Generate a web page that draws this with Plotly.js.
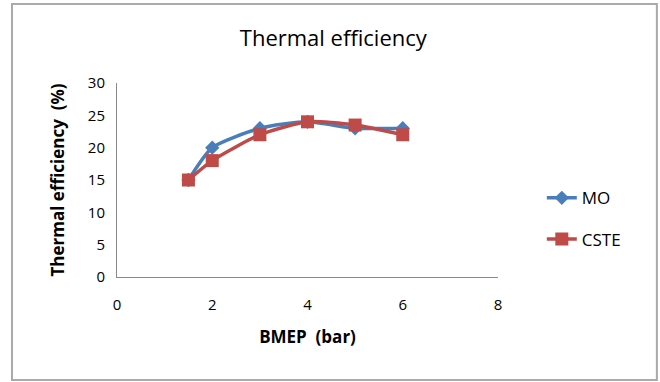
<!DOCTYPE html>
<html><head><meta charset="utf-8">
<script src="https://cdn.plot.ly/plotly-3.0.1.min.js"></script>
<style>html,body{margin:0;padding:0;background:#fff}#c{width:660px;height:382px}</style>
</head><body><div id="c"></div>
<script>
const bmep = [1.5, 2, 3, 4, 5, 6];
const mo = [15, 20, 23, 24, 23, 23];
const cste = [15, 18, 22, 24, 23.5, 22];
const xTicks = [0, 2, 4, 6, 8];
const yTicks = [0, 5, 10, 15, 20, 25, 30];

const font = "Open Sans, Noto Sans, sans-serif";
const traces = [
  {x: bmep, y: mo, name: 'MO', type: 'scatter', mode: 'lines+markers', legendgroup: 'a',
   line: {color: '#4a7ebb', width: 3.5, shape: 'spline', smoothing: 0.6},
   marker: {symbol: 'diamond', size: 11, color: '#4a7ebb'}},
  {x: bmep, y: cste, name: 'CSTE', type: 'scatter', mode: 'lines+markers', legendgroup: 'b',
   line: {color: '#be4b48', width: 3.5, shape: 'spline', smoothing: 0.6},
   marker: {symbol: 'square', size: 13, color: '#be4b48'}}
];
const layout = {
  width: 660, height: 382,
  margin: {l: 117, r: 162, t: 83, b: 105},
  paper_bgcolor: '#fff', plot_bgcolor: '#fff',
  font: {family: font, color: '#000', size: 15},
  title: {text: 'Thermal efficiency', x: 0.505, xanchor: 'center', y: 0.9, yanchor: 'middle',
          font: {family: font, size: 22, color: '#000'}},
  xaxis: {range: [0, 8], tickvals: xTicks, ticktext: xTicks.map(String), showgrid: false, zeroline: false,
          showline: true, linecolor: '#888', linewidth: 1, ticks: '', tickfont: {size: 15},
          ticklabelstandoff: 14,
          title: {text: '<b>BMEP  (bar)</b>', font: {size: 17}, standoff: 18}},
  yaxis: {range: [0, 30], tickvals: yTicks, ticktext: yTicks.map(String), showgrid: false, zeroline: false,
          showline: true, linecolor: '#888', linewidth: 1, ticks: '', tickfont: {size: 15},
          ticklabelstandoff: 8,
          title: {text: '<b>Thermal efficiency  (%)</b>', font: {size: 17}, standoff: 18}},
  showlegend: true,
  legend: {x: 1.115, y: 0.30, xanchor: 'left', yanchor: 'middle', tracegroupgap: 16,
           font: {size: 17, family: font}, bgcolor: 'rgba(0,0,0,0)'},
  shapes: [{type: 'rect', xref: 'paper', yref: 'paper', x0: -0.2756, x1: 1.417, y0: -0.531, y1: 1.407,
            line: {color: '#aaa', width: 2}, fillcolor: 'rgba(0,0,0,0)'}]
};
Plotly.newPlot('c', traces, layout, {displayModeBar: false, staticPlot: true});
</script></body></html>
